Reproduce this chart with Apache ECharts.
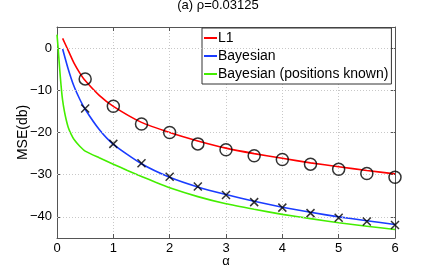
<!DOCTYPE html>
<html>
<head>
<meta charset="utf-8">
<script src="https://cdn.jsdelivr.net/npm/echarts@6/dist/echarts.min.js"></script>
<style>
html,body{margin:0;padding:0;background:#fff;}
#c{width:436px;height:269px;}
</style>
</head>
<body>
<div id="c"></div>
<script>
// ---- data ----
const titleText = '(a) ρ=0.03125';
const seriesNames = ['L1', 'Bayesian', 'Bayesian (positions known)'];
const xTicks = [0, 1, 2, 3, 4, 5, 6];
const yTicks = [-40, -30, -20, -10, 0];

const l1X = [0.1, 0.2, 0.3, 0.4, 0.5, 0.75, 1.0, 1.5, 2.0, 2.5, 3.0, 3.5, 4.0, 4.5, 5.0, 5.5, 6.0];
const l1Y = [2.3, -0.6, -3.5, -5.8, -7.7, -11.2, -13.8, -17.6, -20.0, -22.0, -23.7, -25.0, -26.1, -27.2, -28.1, -29.0, -29.8];

const bayX = [0.1, 0.2, 0.3, 0.4, 0.5, 0.75, 1.0, 1.5, 2.0, 2.5, 3.0, 3.5, 4.0, 4.5, 5.0, 5.5, 6.0];
const bayY = [-0.2, -5.0, -9.0, -12.0, -14.5, -19.3, -22.8, -27.4, -30.6, -32.9, -34.7, -36.3, -37.7, -38.9, -40.0, -40.9, -41.8];

const knownX = [0.0, 0.02, 0.04, 0.06, 0.08, 0.1, 0.13, 0.16, 0.2, 0.25, 0.3, 0.4, 0.5, 0.75, 1.0, 1.25, 1.5, 1.75, 2.0, 2.5, 3.0, 3.5, 4.0, 4.5, 5.0, 5.5, 6.0];
const knownY = [3.2, 0.0, -3.6, -7.0, -10.0, -12.4, -14.9, -16.8, -18.8, -20.4, -21.6, -23.2, -24.4, -26.0, -27.5, -29.0, -30.4, -31.8, -33.1, -35.2, -36.9, -38.2, -39.4, -40.4, -41.4, -42.2, -43.0];

const markX = [0.5, 1.0, 1.5, 2.0, 2.5, 3.0, 3.5, 4.0, 4.5, 5.0, 5.5, 6.0];
const l1Marks = [-7.3, -13.8, -18.0, -20.0, -22.7, -24.1, -25.5, -26.4, -27.5, -28.7, -29.7, -30.6];
const bayMarks = [-14.3, -22.7, -27.3, -30.5, -32.8, -34.8, -36.5, -37.8, -39.1, -40.2, -41.1, -41.9];

// ---- build chart ----
const zip = (xs, ys) => xs.map((x, i) => [x, ys[i]]);
const FONT = 'Liberation Sans, Arial, Helvetica, sans-serif';
const fmt = v => String(v).replace('-', '\u2212');

const chart = echarts.init(document.getElementById('c'), null, {renderer: 'canvas'});

const gridLine = {show: true, lineStyle: {color: '#c8c8c8', type: [1, 2], width: 1}};
const axLine = {show: true, onZero: false, lineStyle: {color: '#555', width: 1}};
const tick = {show: true, inside: true, length: 4, lineStyle: {color: '#555'}};

const lineSeries = (name, data, color) => ({
  name, type: 'line', data, symbol: 'none', showSymbol: false,
  smooth: 0.2,
  lineStyle: {color, width: 1.6}, itemStyle: {color},
  z: 2, silent: true
});

chart.setOption({
  animation: false,
  backgroundColor: '#fff',
  textStyle: {fontFamily: FONT},
  title: {
    text: titleText, left: 'center', top: -4, padding: [3, 5],
    textStyle: {fontSize: 13, fontWeight: 'normal', color: '#000', fontFamily: FONT}
  },
  grid: {left: 57, right: 41, top: 27, bottom: 31, containLabel: false, outerBoundsMode: 'none'},
  legend: {
    orient: 'vertical', left: 202, top: 28,
    data: seriesNames.map(n => ({name: n, icon: 'rect'})),
    itemWidth: 13, itemHeight: 2, itemGap: 2,
    padding: [2, 3, 2, 2],
    borderColor: '#333', borderWidth: 1, backgroundColor: '#fff',
    textStyle: {fontSize: 14, color: '#000', fontFamily: FONT, padding: [0, 0, 0, -4], lineHeight: 16}
  },
  xAxis: [{
    type: 'value', min: 0, max: 6, interval: 1,
    axisLine: axLine, axisTick: tick,
    axisLabel: {color: '#000', fontSize: 13, margin: 4, fontFamily: FONT, formatter: fmt},
    splitLine: gridLine,
    name: 'α', nameLocation: 'middle', nameGap: 17, nameMoveOverlap: false,
    nameTextStyle: {color: '#000', fontSize: 13, fontFamily: FONT}
  }, {
    type: 'value', min: 0, max: 6, interval: 1, position: 'top',
    axisLine: axLine, axisTick: tick,
    axisLabel: {show: false}, splitLine: {show: false}
  }],
  yAxis: [{
    type: 'value', min: -45, max: 5,
    axisLine: axLine,
    axisTick: Object.assign({}, tick, {customValues: yTicks}),
    axisLabel: {color: '#000', fontSize: 13, margin: 5, fontFamily: FONT, formatter: fmt, customValues: yTicks},
    splitLine: {show: false},
    name: 'MSE(db)', nameLocation: 'middle', nameGap: 27, nameRotate: 90, nameMoveOverlap: false,
    nameTextStyle: {color: '#000', fontSize: 14, fontFamily: FONT}
  }, {
    type: 'value', min: -45, max: 5, position: 'right',
    axisLine: axLine,
    axisTick: Object.assign({}, tick, {customValues: yTicks}),
    axisLabel: {show: false, customValues: yTicks}, splitLine: {show: false}
  }],
  series: [
    lineSeries(seriesNames[0], zip(l1X, l1Y), '#ff0000'),
    lineSeries(seriesNames[1], zip(bayX, bayY), '#1a3cff'),
    lineSeries(seriesNames[2], zip(knownX, knownY), '#44ee00'),
    {
      type: 'scatter', data: zip(markX, l1Marks), symbol: 'circle', symbolSize: 12,
      itemStyle: {color: 'rgba(0,0,0,0)', borderColor: '#000', borderWidth: 1.5}, z: 5, silent: true
    },
    {
      type: 'scatter', data: zip(markX, bayMarks), symbol: 'path://M0,0L10,10M10,0L0,10', symbolSize: 8,
      itemStyle: {color: 'rgba(0,0,0,0)', borderColor: '#000', borderWidth: 1.5}, z: 5, silent: true
    },
    {
      type: 'line', data: [], silent: true, z: 0,
      markLine: {
        silent: true, symbol: 'none', label: {show: false},
        lineStyle: {color: '#c8c8c8', type: [1, 2], width: 1},
        data: yTicks.map(v => ({yAxis: v}))
      }
    }
  ]
});
</script>
</body>
</html>
